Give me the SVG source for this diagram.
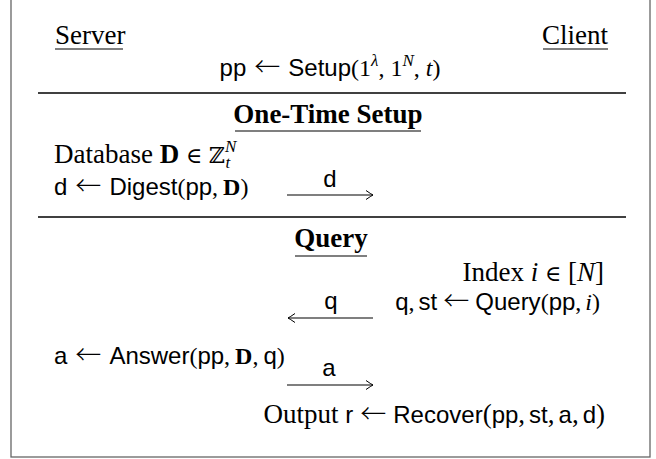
<svg xmlns="http://www.w3.org/2000/svg" width="656" height="459" viewBox="0 0 656 459">
<style>
.rm{font-family:"Liberation Serif","Times New Roman",serif;font-size:27px;fill:#000}
.bf{font-family:"Liberation Serif","Times New Roman",serif;font-size:27px;font-weight:bold;fill:#000}
.sf{font-family:"Liberation Sans",Arial,sans-serif;font-size:24px;fill:#000}
.it{font-family:"Liberation Serif","Times New Roman",serif;font-style:italic}
.b{font-family:"Liberation Serif","Times New Roman",serif;font-weight:bold}
.r{font-family:"Liberation Serif","Times New Roman",serif}
.s{font-family:"Liberation Sans",Arial,sans-serif;font-size:24px}
.arr{font-family:"Noto Sans CJK SC","DejaVu Sans",sans-serif;font-size:26px;font-weight:300}
.sym{font-family:"DejaVu Serif",serif;font-size:22px}
.sup{font-size:17px}
.rule{stroke:#000;stroke-width:1.3;fill:none}
.ul{stroke:#000;stroke-width:1.1;fill:none}
.conn{stroke:#000;stroke-width:1.1;fill:none}
</style>
<defs>
<marker id="ah" viewBox="-8 -5 9 10" markerWidth="9" markerHeight="10" refX="0" refY="0" orient="auto" markerUnits="userSpaceOnUse">
<path d="M-7,-4.5 Q-2,-1 0,0 Q-2,1 -7,4.5" stroke="#000" stroke-width="1" fill="none"/>
</marker>
</defs>
<rect x="11" y="-5" width="639" height="462" fill="#fff" stroke="#666" stroke-width="1.3"/>

<g id="server">
<text class="rm" x="55" y="44">Server</text>
<line class="ul" x1="55" y1="49" x2="123" y2="49"/>
</g>
<g id="client">
<text class="rm" x="608" y="44" text-anchor="end">Client</text>
<line class="ul" x1="543" y1="49" x2="608" y2="49"/>
</g>
<g id="setup">
<text class="sf" x="330" y="76" text-anchor="middle">pp<tspan class="arr" dx="8">←</tspan><tspan dx="8">Setup</tspan><tspan class="r">(1</tspan><tspan class="it sup" dy="-10">λ</tspan><tspan class="r" dy="10">,</tspan><tspan class="r" dx="6">1</tspan><tspan class="it sup" dy="-10">N</tspan><tspan class="r" dy="10">,</tspan><tspan class="it r" dx="6">t</tspan><tspan class="r">)</tspan></text>
</g>
<line class="rule" x1="38" y1="93" x2="626" y2="93"/>

<g id="one-time-setup">
<text class="bf" x="328" y="123" text-anchor="middle">One-Time Setup</text>
<line class="ul" x1="235" y1="131" x2="421" y2="131"/>
</g>
<g id="database">
<text class="rm" x="54" y="163">Database <tspan class="b">D</tspan> <tspan class="sym">∈</tspan> <tspan class="sym">ℤ</tspan><tspan class="it sup" dy="-11">N</tspan><tspan class="it sup" dx="-11" dy="16">t</tspan></text>
</g>
<g id="digest">
<text class="sf" x="54" y="195">d<tspan class="arr" dx="8">←</tspan><tspan dx="8">Digest</tspan><tspan class="r">(</tspan>pp<tspan class="r">,</tspan><tspan class="b" dx="5">D</tspan><tspan class="r">)</tspan></text>
</g>
<line class="rule" x1="38" y1="217" x2="626" y2="217"/>

<g id="query-title">
<text class="bf" x="331" y="247" text-anchor="middle">Query</text>
<line class="ul" x1="295" y1="256" x2="367" y2="256"/>
</g>
<g id="index">
<text class="rm" x="604" y="281" text-anchor="end">Index <tspan class="it">i</tspan> <tspan class="sym">∈</tspan> [<tspan class="it">N</tspan>]</text>
</g>
<g id="query">
<text class="sf" x="600" y="310" text-anchor="end">q<tspan class="r">,</tspan><tspan dx="4">st</tspan><tspan class="arr" dx="6">←</tspan><tspan dx="6">Query</tspan><tspan class="r">(</tspan>pp<tspan class="r">,</tspan><tspan class="it r" dx="4">i</tspan><tspan class="r">)</tspan></text>
</g>
<g id="answer">
<text class="sf" x="54" y="364">a<tspan class="arr" dx="8">←</tspan><tspan dx="8">Answer</tspan><tspan class="r">(</tspan>pp<tspan class="r">,</tspan><tspan class="b" dx="5">D</tspan><tspan class="r">,</tspan><tspan dx="5">q</tspan><tspan class="r">)</tspan></text>
</g>
<g id="recover">
<text class="rm" x="605" y="423" text-anchor="end">Output <tspan class="s">r</tspan><tspan class="arr" dx="7">←</tspan><tspan class="s" dx="7">Recover</tspan>(<tspan class="s">pp</tspan>,<tspan class="s" dx="4">st</tspan>,<tspan class="s" dx="4">a</tspan>,<tspan class="s" dx="4">d</tspan>)</text>
</g>

<g id="connectors">
<line class="conn" x1="287" y1="195" x2="373" y2="195" marker-end="url(#ah)"/>
<text class="sf" x="330" y="187" text-anchor="middle">d</text>
<line class="conn" x1="373" y1="318" x2="288" y2="318" marker-end="url(#ah)"/>
<text class="sf" x="331" y="309" text-anchor="middle">q</text>
<line class="conn" x1="287" y1="385" x2="373" y2="385" marker-end="url(#ah)"/>
<text class="sf" x="329" y="376" text-anchor="middle">a</text>
</g>
</svg>
